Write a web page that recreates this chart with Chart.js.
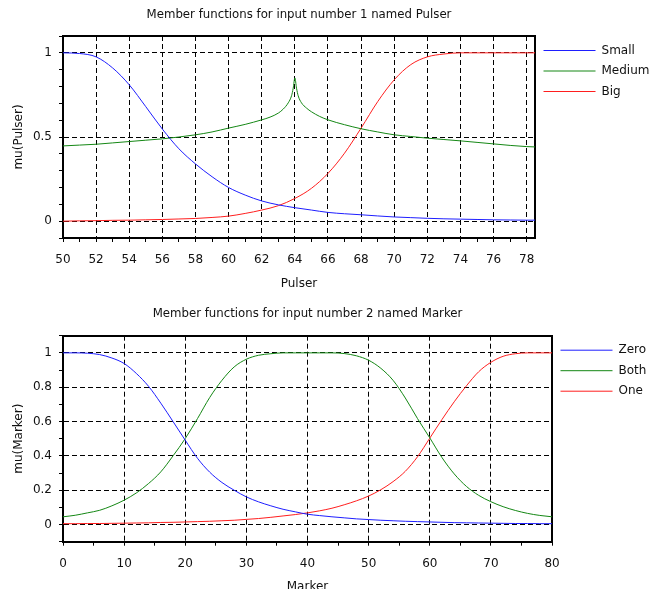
<!DOCTYPE html>
<html>
<head>
<meta charset="utf-8">
<script src="https://cdn.jsdelivr.net/npm/chart.js@4.4.1/dist/chart.umd.min.js"></script>
<style>
  html, body { margin: 0; padding: 0; background: #fff; overflow: hidden; }
  .box { position: absolute; left: 0; width: 665px; }
</style>
</head>
<body>
<div class="box" style="top:0;height:300px"><canvas id="pulserChart" width="665" height="300"></canvas></div>
<div class="box" style="top:300px;height:289px"><canvas id="markerChart" width="665" height="289"></canvas></div>
<script>
// input 1 : Pulser
var pulserX = [50, 51, 52, 53, 54, 55, 56, 57, 58, 59, 60, 61, 62, 63, 64, 65, 66, 67, 68, 69, 70, 71, 72, 73, 74, 75, 76, 77, 78, 78.5];
var smallMu = [1, 0.996, 0.976, 0.91, 0.81, 0.68, 0.547, 0.43, 0.34, 0.264, 0.2, 0.155, 0.12, 0.097, 0.08, 0.066, 0.052, 0.044, 0.038, 0.031, 0.025, 0.021, 0.017, 0.014, 0.012, 0.01, 0.008, 0.007, 0.006, 0.006];
var bigMu = [0, 0.002, 0.003, 0.005, 0.006, 0.008, 0.01, 0.013, 0.016, 0.022, 0.03, 0.046, 0.066, 0.092, 0.135, 0.195, 0.284, 0.404, 0.553, 0.71, 0.84, 0.93, 0.976, 0.993, 1, 1, 1, 1, 1, 1];
var mediumX = [50, 51, 52, 53, 54, 55, 56, 57, 58, 59, 60, 61, 62, 62.5, 63, 63.3, 63.6, 63.8, 63.9, 64, 64.1, 64.2, 64.4, 64.7, 65, 65.5, 66, 67, 68, 69, 70, 71, 72, 73, 74, 75, 76, 77, 78, 78.5];
var mediumMu = [0.447, 0.452, 0.457, 0.465, 0.473, 0.481, 0.489, 0.5, 0.513, 0.53, 0.553, 0.575, 0.602, 0.618, 0.642, 0.666, 0.703, 0.745, 0.79, 0.851, 0.79, 0.745, 0.703, 0.672, 0.65, 0.622, 0.602, 0.573, 0.549, 0.53, 0.513, 0.503, 0.493, 0.485, 0.477, 0.468, 0.459, 0.45, 0.443, 0.441];

// input 2 : Marker
var markerX = [0, 2, 4, 6, 8, 10, 12, 14, 16, 18, 20, 22, 24, 26, 28, 30, 32, 34, 36, 38, 40, 42, 44, 46, 48, 50, 52, 54, 56, 58, 60, 62, 64, 66, 68, 70, 72, 74, 76, 78, 80];
var zeroMu = [1, 1, 0.998, 0.99, 0.97, 0.938, 0.88, 0.805, 0.707, 0.6, 0.491, 0.386, 0.305, 0.245, 0.2, 0.161, 0.132, 0.109, 0.089, 0.074, 0.06, 0.052, 0.045, 0.039, 0.033, 0.029, 0.025, 0.022, 0.019, 0.017, 0.015, 0.013, 0.011, 0.01, 0.009, 0.008, 0.007, 0.006, 0.006, 0.005, 0.005];
var bothMu = [0.045, 0.054, 0.068, 0.083, 0.109, 0.142, 0.184, 0.239, 0.307, 0.4, 0.501, 0.617, 0.74, 0.84, 0.918, 0.963, 0.986, 0.995, 1, 1, 1, 1, 1, 0.996, 0.983, 0.957, 0.91, 0.84, 0.737, 0.617, 0.505, 0.39, 0.295, 0.222, 0.17, 0.133, 0.104, 0.082, 0.065, 0.053, 0.045];
var oneMu = [0.005, 0.005, 0.006, 0.006, 0.007, 0.008, 0.009, 0.01, 0.012, 0.013, 0.015, 0.017, 0.019, 0.022, 0.025, 0.03, 0.035, 0.042, 0.05, 0.058, 0.068, 0.08, 0.095, 0.115, 0.138, 0.166, 0.203, 0.25, 0.31, 0.395, 0.503, 0.612, 0.715, 0.808, 0.89, 0.945, 0.98, 0.995, 1, 1, 1];

var BLUE = 'rgb(30,30,255)', GREEN = 'rgb(20,135,20)', RED = 'rgb(255,30,30)';

Chart.defaults.font.family = '"DejaVu Sans", sans-serif';
Chart.defaults.color = '#111';

function pts(xs, ys) {
    return xs.map(function (x, i) { return { x: x, y: ys[i] }; });
}

function near(v, list) {
    return list.some(function (m) { return Math.abs(v - m) < 1e-6; });
}

function line(label, data, color) {
    return {
        label: label,
        data: data,
        borderColor: color,
        backgroundColor: color,
        borderWidth: 1,
        pointRadius: 0,
        fill: false,
        cubicInterpolationMode: 'monotone'
    };
}

function frameAxis(pos, min, max) {
    return {
        type: 'linear', position: pos, min: min, max: max,
        ticks: { display: false },
        grid: { drawOnChartArea: false, drawTicks: false },
        border: { color: '#000', width: 2 },
        afterFit: function (s) { if (pos === 'top') s.height = 0; else s.width = 0; }
    };
}

function makeChart(id, p) {
    var ctx = document.getElementById(id).getContext('2d');
    return new Chart(ctx, {
        type: 'line',
        data: { datasets: p.datasets },
        options: {
            responsive: false,
            animation: false,
            events: [],
            layout: { padding: { left: 0, right: p.rightPad, top: 0, bottom: 0 } },
            plugins: {
                title: {
                    display: true,
                    text: p.title,
                    fullSize: false,
                    color: '#111',
                    font: { size: 11.75, weight: 'normal' },
                    padding: { top: p.titleTop, bottom: p.titleBottom }
                },
                legend: {
                    position: 'right',
                    align: 'start',
                    fullSize: false,
                    maxWidth: 300,
                    labels: {
                        usePointStyle: true,
                        pointStyle: 'line',
                        pointStyleWidth: 52,
                        padding: 8.5,
                        color: '#111',
                        font: { size: 12 }
                    }
                },
                tooltip: { enabled: false }
            },
            scales: {
                x: {
                    type: 'linear',
                    min: p.xMin, max: p.xMax,
                    title: { display: true, text: p.xTitle, font: { size: 12 }, padding: { bottom: p.xTitlePad } },
                    ticks: {
                        stepSize: p.xStep, includeBounds: false, autoSkip: false, maxRotation: 0,
                        padding: 10.5, font: { size: 12 },
                        callback: function (v) { return near(v % p.xMajor, [0, p.xMajor]) ? String(v) : ''; }
                    },
                    grid: {
                        color: function (c) { return near(c.tick.value % p.xMajor, [0, p.xMajor]) ? '#000' : 'rgba(0,0,0,0)'; },
                        tickColor: '#000',
                        tickLength: 4
                    },
                    border: { color: '#000', width: 2, dash: [5, 3] },
                    afterFit: function (s) { s.height = p.xHeight; }
                },
                y: {
                    type: 'linear',
                    min: -0.1, max: 1.1,
                    title: { display: true, text: p.yTitle, font: { size: 12 }, padding: { top: 11.8 } },
                    ticks: {
                        stepSize: 0.1, includeBounds: false, autoSkip: false, padding: 7, font: { size: 12 },
                        callback: function (v) { return near(v, p.yMajors) ? String(Math.round(v * 10) / 10) : ''; }
                    },
                    grid: {
                        color: function (c) { return near(c.tick.value, p.yMajors) ? '#000' : 'rgba(0,0,0,0)'; },
                        tickColor: '#000',
                        tickLength: 4
                    },
                    border: { color: '#000', width: 2, dash: [5, 3] },
                    afterFit: function (s) { s.width = 63; }
                },
                x2: frameAxis('top', p.xMin, p.xMax),
                y2: frameAxis('right', -0.1, 1.1)
            }
        }
    });
}

makeChart('pulserChart', {
    title: 'Member functions for input number 1 named Pulser',
    titleTop: 7.95, titleBottom: 13.95,
    rightPad: 5.5,
    xMin: 50, xMax: 78.5, xStep: 1, xMajor: 2, xTitle: 'Pulser', xTitlePad: 8.8, xHeight: 62,
    yTitle: 'mu(Pulser)', yMajors: [0, 0.5, 1],
    datasets: [
        line('Small', pts(pulserX, smallMu), BLUE),
        line('Medium', pts(mediumX, mediumMu), GREEN),
        line('Big', pts(pulserX, bigMu), RED)
    ]
});

makeChart('markerChart', {
    title: 'Member functions for input number 2 named Marker',
    titleTop: 6.95, titleBottom: 14.65,
    rightPad: 8.6,
    xMin: 0, xMax: 80, xStep: 5, xMajor: 10, xTitle: 'Marker', xTitlePad: -5.2, xHeight: 47.3,
    yTitle: 'mu(Marker)', yMajors: [0, 0.2, 0.4, 0.6, 0.8, 1],
    datasets: [
        line('Zero', pts(markerX, zeroMu), BLUE),
        line('Both', pts(markerX, bothMu), GREEN),
        line('One', pts(markerX, oneMu), RED)
    ]
});
</script>
</body>
</html>
